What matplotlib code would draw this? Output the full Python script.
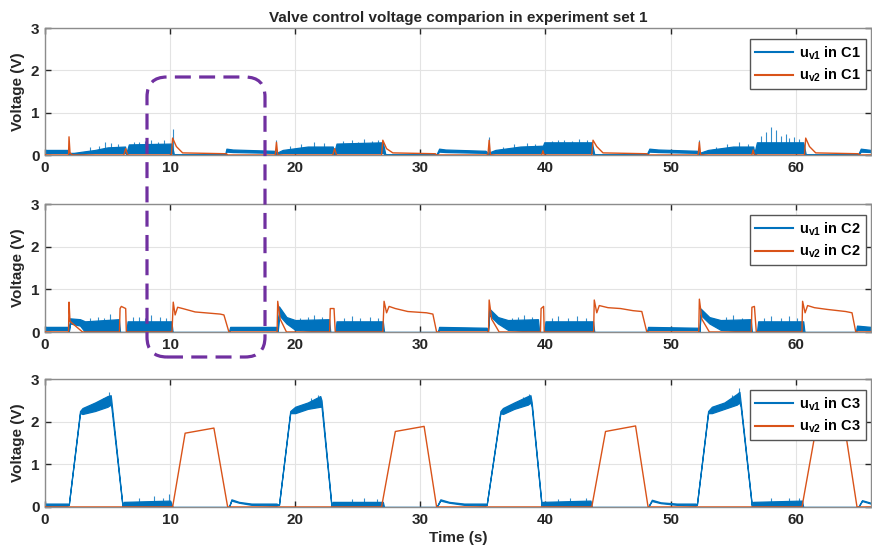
import matplotlib
matplotlib.use('Agg')
import matplotlib.pyplot as plt
from matplotlib.patches import FancyBboxPatch
from matplotlib.lines import Line2D

plt.rcParams['font.family'] = ['Liberation Sans', 'DejaVu Sans']
plt.rcParams['mathtext.fontset'] = 'custom'
plt.rcParams['mathtext.bf'] = 'Liberation Sans:bold'
plt.rcParams['mathtext.rm'] = 'Liberation Sans:bold'

BLUE = '#0072BD'
ORANGE = '#D95319'

title = 'Valve control voltage comparion in experiment set 1'
xlabel = 'Time (s)'
ylabel = 'Voltage (V)'
xticks = [0, 10, 20, 30, 40, 50, 60]
yticks = [0, 1, 2, 3]
cases = ['C1', 'C2', 'C3']

# ---------------- C1 ----------------
# u_v1 envelope knots: (time, low, high)
c1_v1 = [(0, 0.05, 0.12), (1.85, 0.05, 0.12), (1.95, 0.0, 0.05), (2.3, 0.02, 0.05),
         (3, 0.03, 0.08), (4, 0.05, 0.12), (5, 0.05, 0.18), (6.4, 0.05, 0.2),
         (6.5, 0.02, 0.05), (6.7, 0.05, 0.25), (10.1, 0.05, 0.27), (10.3, 0.0, 0.02),
         (14.4, 0.0, 0.02), (14.5, 0.08, 0.15), (15, 0.07, 0.13), (18.3, 0.05, 0.1),
         (18.5, 0.02, 0.05), (19, 0.05, 0.12), (21, 0.05, 0.2), (23, 0.05, 0.2),
         (23.1, 0.0, 0.05), (23.3, 0.05, 0.27), (27.0, 0.05, 0.3), (27.2, 0.0, 0.02),
         (31.3, 0.0, 0.02), (31.5, 0.08, 0.15), (32, 0.07, 0.13), (35.2, 0.05, 0.1),
         (35.4, 0.02, 0.05), (36, 0.05, 0.12), (38, 0.05, 0.2), (39.8, 0.05, 0.22),
         (39.9, 0.05, 0.3), (43.7, 0.05, 0.3), (43.9, 0.0, 0.02), (48.1, 0.0, 0.02),
         (48.3, 0.08, 0.15), (49, 0.07, 0.13), (52.1, 0.05, 0.1), (52.3, 0.02, 0.05),
         (53, 0.05, 0.12), (55, 0.05, 0.2), (56.6, 0.05, 0.2), (56.7, 0.0, 0.05),
         (56.9, 0.05, 0.3), (60.6, 0.05, 0.3), (60.8, 0.0, 0.02), (65.0, 0.0, 0.02),
         (65.2, 0.08, 0.15), (66, 0.07, 0.12)]
# noise spikes: (time, base, top)
c1_v1_spikes = [(3.6, 0.05, 0.18), (4.3, 0.05, 0.22), (4.8, 0.05, 0.3), (5.3, 0.05, 0.28),
                (5.8, 0.05, 0.25), (7.1, 0.05, 0.3), (7.5, 0.05, 0.3), (8.0, 0.05, 0.33),
                (8.5, 0.05, 0.35), (9.0, 0.05, 0.3), (9.5, 0.05, 0.35), (10.2, 0.05, 0.62),
                (18.5, 0.0, 0.35), (19.6, 0.05, 0.22), (20.5, 0.05, 0.25), (21.5, 0.05, 0.3),
                (22.3, 0.05, 0.28), (23.8, 0.05, 0.33), (24.5, 0.05, 0.35), (25.0, 0.05, 0.3),
                (25.5, 0.05, 0.38), (26.1, 0.05, 0.33), (26.6, 0.05, 0.35), (35.5, 0.0, 0.42),
                (36.6, 0.05, 0.2), (37.5, 0.05, 0.25), (38.5, 0.05, 0.28), (39.2, 0.05, 0.27),
                (40.5, 0.05, 0.32), (41.0, 0.05, 0.35), (41.5, 0.05, 0.35), (42.1, 0.05, 0.33),
                (42.7, 0.05, 0.37), (43.3, 0.05, 0.35), (52.3, 0.0, 0.35), (53.6, 0.05, 0.2),
                (54.5, 0.05, 0.25), (55.5, 0.05, 0.3), (56.2, 0.05, 0.27), (57.2, 0.05, 0.45),
                (57.6, 0.05, 0.55), (58.0, 0.05, 0.65), (58.4, 0.05, 0.6), (58.8, 0.05, 0.45),
                (59.2, 0.05, 0.5), (59.5, 0.05, 0.4), (59.9, 0.05, 0.42), (60.3, 0.05, 0.38)]
# u_v2 knots: (time, value)
c1_v2 = [(0, 0), (1.88, 0), (1.92, 0.43), (2.0, 0.05), (2.2, 0), (6.3, 0), (6.45, 0.15),
         (6.6, 0), (10.1, 0), (10.2, 0.4), (10.5, 0.2), (11, 0.05), (14.5, 0.03), (14.6, 0),
         (18.4, 0), (18.5, 0.3), (18.6, 0), (23.0, 0), (23.15, 0.15), (23.3, 0), (26.9, 0),
         (27.0, 0.35), (27.3, 0.15), (27.8, 0.05), (31.2, 0.03), (31.3, 0), (35.4, 0),
         (35.5, 0.35), (35.6, 0), (39.7, 0), (39.8, 0.1), (39.9, 0), (43.7, 0),
         (43.8, 0.35), (44.1, 0.2), (44.6, 0.05), (48.1, 0.03), (48.2, 0), (52.2, 0),
         (52.3, 0.3), (52.4, 0), (56.5, 0), (56.6, 0.12), (56.7, 0), (60.7, 0),
         (60.8, 0.4), (61.1, 0.2), (61.6, 0.05), (65, 0.03), (65.1, 0), (66, 0)]

# ---------------- C2 ----------------
c2_v1 = [(0, 0.05, 0.12), (1.85, 0.05, 0.12), (1.9, 0, 0), (2.0, 0.2, 0.32), (2.8, 0.15, 0.3),
         (3.2, 0.0, 0.25), (5.9, 0, 0.3), (6.0, 0, 0), (6.5, 0, 0), (6.6, 0, 0.25),
         (10.1, 0, 0.25), (10.2, 0, 0), (14.7, 0, 0), (14.8, 0.05, 0.12), (18.5, 0.05, 0.12),
         (18.6, 0, 0), (18.7, 0.4, 0.6), (19.3, 0.2, 0.35), (20, 0.05, 0.28), (22.7, 0, 0.3),
         (22.8, 0, 0), (23.2, 0, 0), (23.3, 0, 0.25), (27.0, 0, 0.25), (27.1, 0, 0),
         (31.4, 0, 0), (31.5, 0.05, 0.12), (35.3, 0.05, 0.1), (35.4, 0, 0), (35.5, 0.4, 0.55),
         (36.2, 0.2, 0.35), (37, 0.05, 0.28), (39.4, 0, 0.3), (39.5, 0, 0), (39.9, 0, 0),
         (40, 0, 0.25), (43.8, 0, 0.25), (43.9, 0, 0), (48.1, 0, 0), (48.2, 0.05, 0.12),
         (52.2, 0.05, 0.1), (52.3, 0, 0), (52.4, 0.4, 0.55), (53.1, 0.2, 0.35),
         (54, 0.05, 0.28), (56.4, 0, 0.3), (56.5, 0, 0), (56.9, 0, 0), (57.0, 0, 0.25),
         (60.6, 0, 0.25), (60.7, 0, 0), (64.8, 0, 0), (64.9, 0.05, 0.15), (66, 0.05, 0.12)]
c2_v1_spikes = [(3.6, 0.05, 0.33), (4.2, 0.05, 0.35), (4.7, 0.05, 0.33), (5.2, 0.05, 0.42),
                (7.0, 0.05, 0.35), (7.5, 0.05, 0.35), (8.0, 0.05, 0.32), (8.5, 0.05, 0.4),
                (9.2, 0.05, 0.35), (9.7, 0.05, 0.33), (20.4, 0.05, 0.33), (21.0, 0.05, 0.35),
                (21.5, 0.05, 0.4), (22.1, 0.05, 0.35), (23.9, 0.05, 0.33), (24.5, 0.05, 0.38),
                (25.2, 0.05, 0.33), (26.0, 0.05, 0.35), (26.6, 0.05, 0.33), (37.3, 0.05, 0.33),
                (37.8, 0.05, 0.35), (38.3, 0.05, 0.4), (38.9, 0.05, 0.35), (40.5, 0.05, 0.33),
                (41.0, 0.05, 0.37), (41.8, 0.05, 0.33), (42.5, 0.05, 0.38), (43.2, 0.05, 0.33),
                (54.4, 0.05, 0.35), (55.0, 0.05, 0.4), (55.7, 0.05, 0.33), (57.5, 0.05, 0.33),
                (58.0, 0.05, 0.38), (58.8, 0.05, 0.33), (59.5, 0.05, 0.37), (60.1, 0.05, 0.33)]
c2_v2 = [(0, 0), (1.88, 0), (1.92, 0.7), (2.0, 0.25), (3.0, 0), (5.95, 0), (6.0, 0.55),
         (6.1, 0.6), (6.45, 0.55), (6.5, 0), (10.15, 0), (10.25, 0.7), (10.4, 0.4),
         (10.6, 0.58), (11, 0.55), (12, 0.47), (14, 0.42), (14.3, 0.4), (14.7, 0),
         (18.55, 0), (18.6, 0.72), (18.8, 0.3), (19.3, 0), (22.75, 0), (22.8, 0.55),
         (23.1, 0.55), (23.2, 0), (27.0, 0), (27.1, 0.72), (27.3, 0.45), (27.5, 0.6),
         (28, 0.55), (29, 0.48), (30.5, 0.45), (31.0, 0.42), (31.3, 0), (35.45, 0),
         (35.5, 0.75), (35.7, 0.3), (36.3, 0), (39.6, 0), (39.65, 0.55), (39.85, 0.6),
         (39.9, 0), (43.85, 0), (43.9, 0.75), (44.1, 0.45), (44.3, 0.62), (45, 0.57),
         (46, 0.55), (47, 0.5), (47.7, 0.48), (48.1, 0), (52.25, 0), (52.3, 0.77),
         (52.5, 0.3), (53.1, 0), (56.45, 0), (56.5, 0.58), (56.7, 0.6), (56.85, 0),
         (60.5, 0), (60.55, 0.72), (60.75, 0.45), (60.95, 0.62), (61.5, 0.57),
         (62.5, 0.53), (64, 0.48), (64.5, 0.45), (64.8, 0), (66, 0)]

# ---------------- C3 ----------------
c3_v1 = [(0, 0.03, 0.08), (1.8, 0.03, 0.08), (1.9, 0.05, 0.05), (2.8, 2.2, 2.25),
         (3.0, 2.18, 2.32), (4.0, 2.25, 2.45), (5.0, 2.35, 2.6), (5.25, 2.4, 2.62),
         (5.3, 2.35, 2.5), (6.2, 0.0, 0.02), (6.3, 0.0, 0.12), (10.0, 0.0, 0.15),
         (10.2, 0, 0), (14.7, 0, 0), (14.9, 0.15, 0.18), (15.5, 0.1, 0.12), (16.5, 0.05, 0.08),
         (18.5, 0.03, 0.08), (18.7, 0.05, 0.05), (19.6, 2.2, 2.25), (20, 2.2, 2.35),
         (21, 2.3, 2.45), (22, 2.35, 2.6), (22.1, 2.35, 2.5), (22.9, 0, 0.02), (23.0, 0, 0.12),
         (27.0, 0, 0.12), (27.1, 0, 0), (31.3, 0, 0), (31.6, 0.15, 0.18), (32.3, 0.1, 0.12),
         (33.5, 0.05, 0.08), (35.2, 0.03, 0.08), (35.3, 0.05, 0.05), (36.4, 2.2, 2.25),
         (36.6, 2.18, 2.32), (37.5, 2.3, 2.45), (38.6, 2.4, 2.6), (38.8, 2.45, 2.62),
         (38.9, 2.35, 2.45), (39.7, 0, 0.02), (39.8, 0, 0.12), (43.6, 0, 0.15), (43.7, 0, 0),
         (48.2, 0, 0), (48.5, 0.14, 0.17), (49.2, 0.09, 0.11), (50.5, 0.05, 0.08),
         (52.0, 0.03, 0.08), (52.1, 0.05, 0.05), (53.0, 2.2, 2.25), (53.3, 2.2, 2.35),
         (54.3, 2.3, 2.45), (55.3, 2.4, 2.65), (55.5, 2.45, 2.7), (55.6, 2.35, 2.45),
         (56.5, 0, 0.02), (56.6, 0, 0.12), (60.5, 0, 0.15), (60.6, 0, 0), (65.0, 0, 0),
         (65.3, 0.14, 0.16), (66, 0.08, 0.1)]
c3_v1_spikes = [(4.6, 2.35, 2.55), (5.1, 2.45, 2.7), (7.5, 0.0, 0.2), (8.7, 0.0, 0.25),
                (9.4, 0.0, 0.2), (9.9, 0.0, 0.3), (21.3, 2.35, 2.55), (21.8, 2.4, 2.62),
                (24.5, 0.0, 0.18), (25.5, 0.0, 0.2), (26.5, 0.0, 0.18), (38.2, 2.4, 2.58),
                (38.7, 2.45, 2.65), (41.0, 0.0, 0.18), (42.0, 0.0, 0.2), (43.2, 0.0, 0.2),
                (54.9, 2.4, 2.62), (55.45, 2.5, 2.78), (58.0, 0.0, 0.2), (59.5, 0.0, 0.22),
                (60.3, 0.0, 0.2)]
c3_v2 = [(0, 0), (10.2, 0), (11.2, 1.73), (13.5, 1.85), (14.6, 0), (26.9, 0), (28.0, 1.77),
         (30.3, 1.89), (31.3, 0), (43.7, 0), (44.8, 1.77), (47.2, 1.9), (48.2, 0), (60.5, 0),
         (61.6, 1.8), (63.9, 1.9), (64.9, 0), (66, 0)]

panels = [(c1_v1, c1_v1_spikes, c1_v2), (c2_v1, c2_v1_spikes, c2_v2), (c3_v1, c3_v1_spikes, c3_v2)]

fig = plt.figure(figsize=(8.72, 5.55), dpi=100)
rects = [[0.0516, 0.7207, 0.947, 0.2288],
         [0.0516, 0.4018, 0.947, 0.2306],
         [0.0516, 0.0865, 0.947, 0.2306]]

for i, ((v1, spikes, v2), case) in enumerate(zip(panels, cases)):
    ax = fig.add_axes(rects[i])
    t1 = [p[0] for p in v1]
    lo1 = [p[1] for p in v1]
    hi1 = [p[2] for p in v1]
    ax.fill_between(t1, lo1, hi1, facecolor=BLUE, edgecolor=BLUE, lw=0.9, zorder=2)
    ax.vlines([s[0] for s in spikes], [s[1] for s in spikes], [s[2] for s in spikes],
              color=BLUE, lw=0.8, alpha=0.8, zorder=2)
    ax.plot([p[0] for p in v2], [p[1] for p in v2], color=ORANGE, lw=1.0, zorder=3)

    ax.set_xlim(0, 66)
    ax.set_ylim(0, 3)
    ax.set_xticks(xticks)
    ax.set_yticks(yticks)
    ax.grid(True, color='#e3e3e3', lw=0.8)
    ax.set_axisbelow(True)
    ax.tick_params(direction='in', top=True, right=True, length=4, width=1,
                   labelsize=11, colors='#262626', pad=4)
    for lab in ax.get_xticklabels() + ax.get_yticklabels():
        lab.set_fontweight('bold')
    for sp in ax.spines.values():
        sp.set_color('#8c8c8c')
        sp.set_linewidth(1.0)
    ax.set_ylabel(ylabel, fontsize=11, fontweight='bold', color='#262626', labelpad=4)
    if i == 0:
        ax.set_title(title, fontsize=11, fontweight='bold', color='#262626', pad=4)
    if i == 2:
        ax.set_xlabel(xlabel, fontsize=11, fontweight='bold', color='#262626', labelpad=3)

    handles = [Line2D([], [], color=BLUE, lw=1.5), Line2D([], [], color=ORANGE, lw=1.5)]
    labels = [r'$\mathbf{u_{v1}}$ in ' + case, r'$\mathbf{u_{v2}}$ in ' + case]
    leg = ax.legend(handles, labels, loc='upper right', bbox_to_anchor=(1 - 5 / 826, 1 - 11 / 127),
                    borderaxespad=0, fancybox=False, framealpha=1, edgecolor='#555555',
                    handlelength=2.6, prop={'weight': 'bold', 'size': 10.5},
                    borderpad=0.35, labelspacing=0.35, handletextpad=0.4)
    leg.get_frame().set_linewidth(1.0)

box = FancyBboxPatch((1.47, 1.98), 1.18, 2.80, boxstyle='round,pad=0,rounding_size=0.2',
                     transform=fig.dpi_scale_trans, fill=False, edgecolor='#7030A0',
                     lw=2.3, linestyle=(0, (5, 2.6)), zorder=10)
fig.add_artist(box)

fig.savefig('out.png', dpi=100)
